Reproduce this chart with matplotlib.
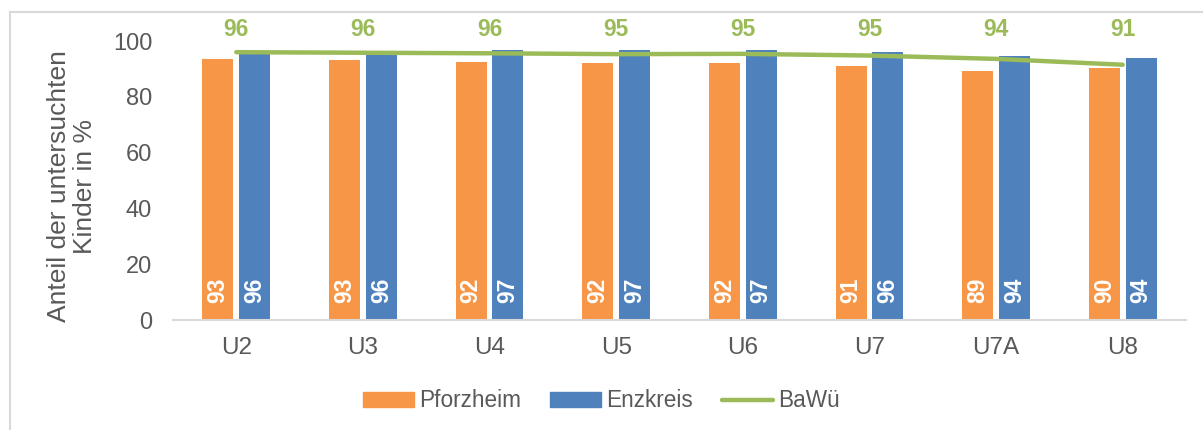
import matplotlib.pyplot as plt
from matplotlib.lines import Line2D
import numpy as np

plt.rcParams['font.family'] = ['Liberation Sans', 'DejaVu Sans']

# data
categories = ['U2', 'U3', 'U4', 'U5', 'U6', 'U7', 'U7A', 'U8']
pforzheim = [93.5, 93.3, 92.4, 92.3, 92.0, 91.0, 89.4, 90.2]
enzkreis = [96.3, 96.3, 96.8, 96.8, 96.7, 96.2, 94.5, 94.0]
bawue = [96.0, 95.8, 95.6, 95.3, 95.4, 94.8, 93.6, 91.5]
pforzheim_labels = ['93', '93', '92', '92', '92', '91', '89', '90']
enzkreis_labels = ['96', '96', '97', '97', '97', '96', '94', '94']
bawue_labels = ['96', '96', '96', '95', '95', '95', '94', '91']

orange = '#F79646'
blue = '#4F81BD'
green = '#9BBB59'
grey_text = '#595959'

fig = plt.figure(figsize=(12.03, 4.30), dpi=100)
ax = fig.add_axes([0.1438, 0.2558, 0.8421, 0.6488])

x = np.arange(len(categories))
w = 0.245
off = 0.145
ax.bar(x - off, pforzheim, w, color=orange, label='Pforzheim', zorder=2)
ax.bar(x + off, enzkreis, w, color=blue, label='Enzkreis', zorder=2)
ax.plot(x, bawue, color=green, lw=3.2, solid_capstyle='round', label='BaWü', zorder=3)

# labels inside bars, at the base
for i in range(len(categories)):
    ax.annotate(pforzheim_labels[i], (x[i] - off, 0), xytext=(0, 12), textcoords='offset points',
                rotation=90, ha='center', va='bottom', color='white', fontsize=16.5, fontweight='bold')
    ax.annotate(enzkreis_labels[i], (x[i] + off, 0), xytext=(0, 12), textcoords='offset points',
                rotation=90, ha='center', va='bottom', color='white', fontsize=16.5, fontweight='bold')
    ax.text(x[i], 104, bawue_labels[i], ha='center', va='center', color=green,
            fontsize=16.5, fontweight='bold', clip_on=False)

ax.set_xlim(-0.5, len(categories) - 0.5)
ax.set_ylim(0, 100)
ax.set_yticks(range(0, 101, 20))
ax.set_xticks(x)
ax.set_xticklabels(categories)
ax.tick_params(axis='y', length=0, pad=15, labelsize=17, labelcolor=grey_text)
ax.tick_params(axis='x', length=0, pad=12, labelsize=17.5, labelcolor=grey_text)
for s in ['top', 'right', 'left']:
    ax.spines[s].set_visible(False)
ax.spines['bottom'].set_color('#D9D9D9')
ax.spines['bottom'].set_linewidth(1.5)

fig.text(0.06, 0.567, 'Anteil der untersuchten\nKinder in %', rotation=90, ha='center', va='center',
         fontsize=19, color=grey_text, linespacing=1.1)

handles = [plt.Rectangle((0, 0), 1, 1, color=orange),
           plt.Rectangle((0, 0), 1, 1, color=blue),
           Line2D([0], [0], color=green, lw=3.2, solid_capstyle='round')]
fig.legend(handles, ['Pforzheim', 'Enzkreis', 'BaWü'], loc='center', bbox_to_anchor=(0.5, 0.068),
           ncol=3, frameon=False, fontsize=16.3, labelcolor=grey_text, handlelength=2.25,
           handleheight=0.65, handletextpad=0.22, columnspacing=1.3)

# light frame around the chart area (only left and top are visible)
fig.add_artist(Line2D([10 / 1203, 10 / 1203], [0, 1 - 12 / 430], color='#D9D9D9', lw=1.5))
fig.add_artist(Line2D([10 / 1203, 1], [1 - 12 / 430, 1 - 12 / 430], color='#D9D9D9', lw=1.5))

fig.savefig('out.png', dpi=100)
